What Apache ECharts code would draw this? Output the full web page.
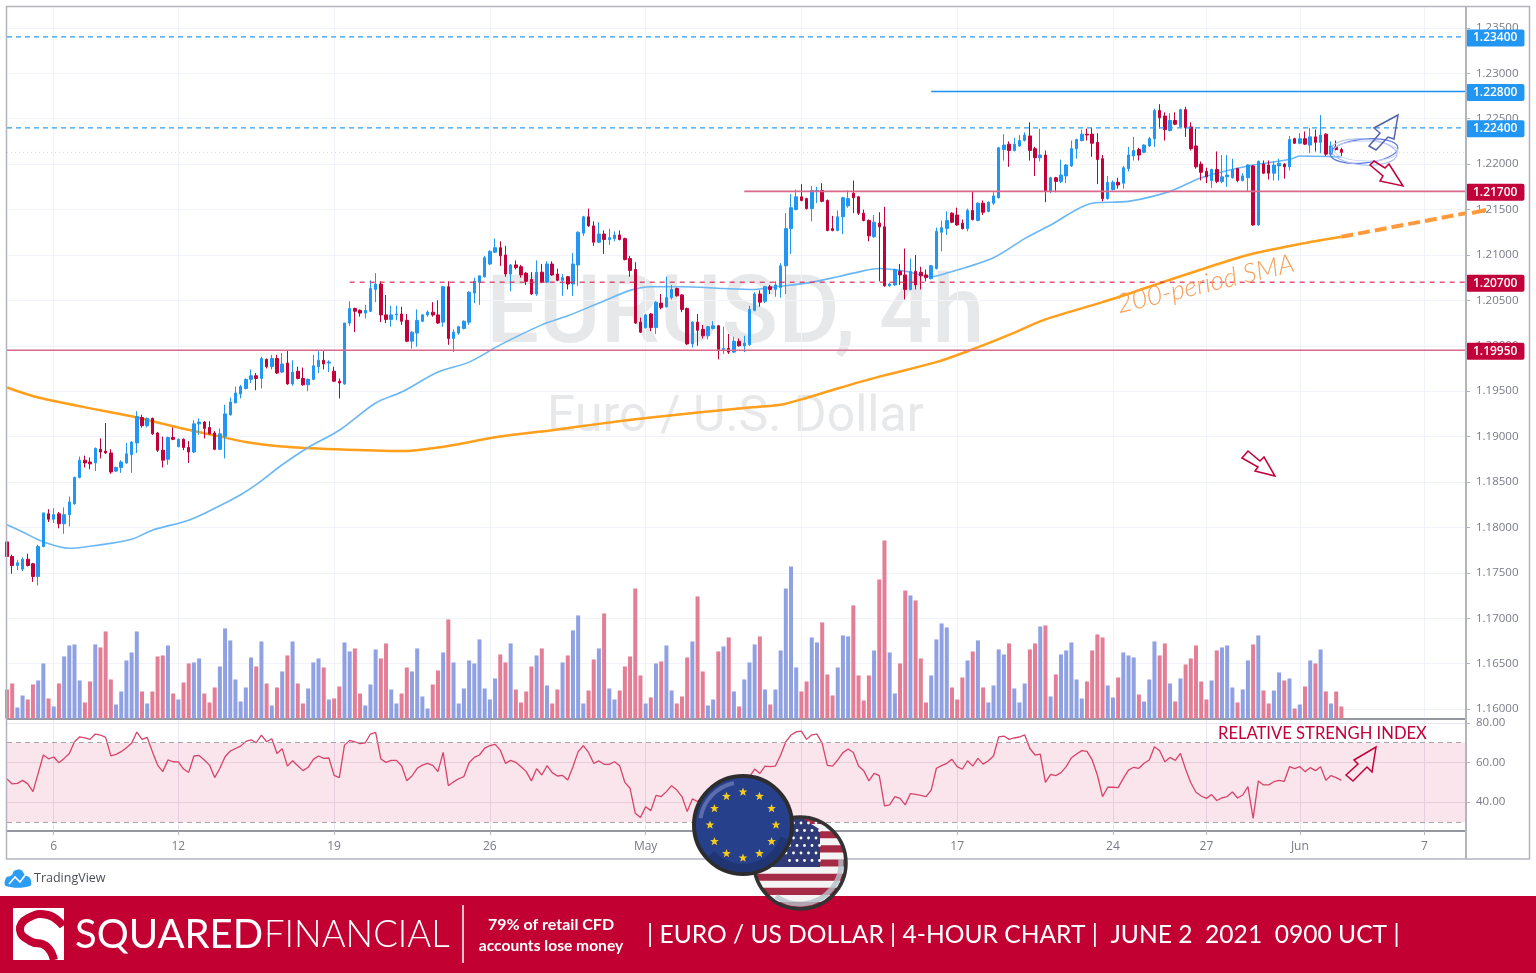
<!DOCTYPE html>
<html>
<head>
<meta charset="utf-8">
<title>EUR/USD 4h</title>
<script src="https://cdn.jsdelivr.net/npm/echarts@6/dist/echarts.min.js"></script>
<style>
html, body { margin: 0; padding: 0; background: #fff; }
#chart { width: 1536px; height: 973px; }
</style>
</head>
<body>
<div id="chart"></div>
<script>
// x axis slots: one per 4h bar, bars plus empty space up to 7 Jun
const slotCount = 282;
const xTickIndex = [9, 33, 63, 93, 123, 153, 183, 213, 231, 249, 273];
const xTickLabels = ['6', '12', '19', '26', 'May', '10', '17', '24', '27', 'Jun', '7'];
const priceTicks = [1.16, 1.165, 1.17, 1.175, 1.18, 1.185, 1.19, 1.195, 1.2, 1.205, 1.21, 1.215, 1.22, 1.225, 1.23, 1.235];
const rsiTicks = [40, 60, 80];

const opens = [
  1.1784,1.1768,1.1758,1.1754,1.1765,1.1760,1.1746,1.1779,1.1815,1.1809,
  1.1815,1.1804,1.1814,1.1826,1.1855,1.1874,1.1872,1.1871,1.1886,1.1884,
  1.1882,1.1862,1.1866,1.1871,1.1880,1.1893,1.1921,1.1912,1.1920,1.1904,
  1.1885,1.1875,1.1899,1.1889,1.1897,1.1888,1.1883,1.1914,1.1916,1.1910,
  1.1904,1.1886,1.1900,1.1924,1.1937,1.1947,1.1953,1.1963,1.1967,1.1964,
  1.1985,1.1977,1.1986,1.1971,1.1981,1.1958,1.1972,1.1964,1.1957,1.1963,
  1.1977,1.1984,1.1981,1.1972,1.1961,1.1958,1.2025,1.2041,1.2039,1.2036,
  1.2038,1.2062,1.2068,1.2034,1.2029,1.2034,1.2035,1.2028,1.2005,1.2014,
  1.2027,1.2034,1.2037,1.2034,1.2026,1.2065,1.2008,1.2014,1.2019,1.2026,
  1.2058,1.2070,1.2076,1.2090,1.2103,1.2108,1.2100,1.2079,1.2089,1.2087,
  1.2080,1.2073,1.2057,1.2081,1.2070,1.2090,1.2079,1.2072,1.2076,1.2068,
  1.2089,1.2124,1.2142,1.2132,1.2114,1.2123,1.2117,1.2118,1.2122,1.2118,
  1.2096,1.2084,1.2026,1.2020,1.2035,1.2020,1.2047,1.2043,1.2053,1.2063,
  1.2056,1.2041,1.2002,1.2026,1.2018,1.2011,1.2019,1.2022,1.1996,1.1997,
  1.1993,1.2005,1.2000,1.2001,1.2039,1.2057,1.2049,1.2065,1.2062,1.2064,
  1.2088,1.2129,1.2150,1.2164,1.2162,1.2151,1.2170,1.2171,1.2160,1.2129,
  1.2127,1.2142,1.2154,1.2168,1.2164,1.2146,1.2138,1.2120,1.2135,1.2131,
  1.2066,1.2067,1.2082,1.2078,1.2062,1.2082,1.2081,1.2078,1.2074,1.2085,
  1.2125,1.2129,1.2146,1.2144,1.2135,1.2129,1.2149,1.2138,1.2157,1.2148,
  1.2157,1.2163,1.2216,1.2222,1.2215,1.2220,1.2226,1.2231,1.2217,1.2207,
  1.2210,1.2170,1.2185,1.2181,1.2187,1.2198,1.2217,1.2226,1.2233,1.2233,
  1.2224,1.2206,1.2162,1.2172,1.2180,1.2179,1.2195,1.2209,1.2216,1.2213,
  1.2220,1.2228,1.2259,1.2253,1.2237,1.2248,1.2241,1.2260,1.2241,1.2220,
  1.2200,1.2192,1.2182,1.2194,1.2181,1.2186,1.2185,1.2195,1.2182,1.2185,
  1.2198,1.2133,1.2200,1.2199,1.2190,1.2198,1.2200,1.2197,1.2228,1.2223,
  1.2228,1.2221,1.2230,1.2224,1.2233,1.2211,1.2219,1.2216
];
const closes = [
  1.1768,1.1758,1.1761,1.1765,1.1758,1.1746,1.1779,1.1816,1.1809,1.1814,
  1.1804,1.1814,1.1828,1.1855,1.1874,1.1871,1.1870,1.1887,1.1883,1.1882,
  1.1861,1.1866,1.1872,1.1881,1.1894,1.1922,1.1912,1.1920,1.1903,1.1885,
  1.1874,1.1899,1.1897,1.1897,1.1888,1.1883,1.1914,1.1916,1.1909,1.1903,
  1.1886,1.1903,1.1925,1.1938,1.1948,1.1955,1.1963,1.1967,1.1964,1.1986,
  1.1977,1.1986,1.1970,1.1980,1.1958,1.1971,1.1964,1.1957,1.1963,1.1978,
  1.1984,1.1980,1.1982,1.1961,1.1959,1.2025,1.2041,1.2038,1.2036,1.2039,
  1.2063,1.2068,1.2034,1.2029,1.2034,1.2035,1.2027,1.2005,1.2015,1.2028,
  1.2034,1.2037,1.2034,1.2025,1.2065,1.2008,1.2015,1.2021,1.2027,1.2059,
  1.2071,1.2077,1.2097,1.2104,1.2108,1.2099,1.2079,1.2089,1.2086,1.2078,
  1.2071,1.2057,1.2081,1.2070,1.2090,1.2078,1.2072,1.2075,1.2068,1.2090,
  1.2125,1.2142,1.2132,1.2114,1.2123,1.2117,1.2119,1.2122,1.2117,1.2095,
  1.2083,1.2025,1.2015,1.2034,1.2020,1.2048,1.2042,1.2053,1.2062,1.2055,
  1.2040,1.2002,1.2026,1.2017,1.2011,1.2021,1.2022,1.1996,1.1997,1.1993,
  1.2005,1.2000,1.2003,1.2040,1.2057,1.2048,1.2065,1.2062,1.2067,1.2088,
  1.2129,1.2152,1.2164,1.2160,1.2151,1.2171,1.2171,1.2159,1.2127,1.2127,
  1.2142,1.2163,1.2162,1.2163,1.2146,1.2138,1.2121,1.2136,1.2131,1.2066,
  1.2068,1.2084,1.2078,1.2062,1.2082,1.2067,1.2077,1.2075,1.2088,1.2126,
  1.2130,1.2138,1.2136,1.2133,1.2129,1.2149,1.2139,1.2157,1.2147,1.2158,
  1.2165,1.2218,1.2221,1.2215,1.2222,1.2226,1.2232,1.2215,1.2207,1.2210,
  1.2170,1.2185,1.2181,1.2188,1.2199,1.2217,1.2227,1.2233,1.2232,1.2223,
  1.2205,1.2162,1.2180,1.2180,1.2177,1.2196,1.2210,1.2215,1.2210,1.2221,
  1.2228,1.2259,1.2251,1.2238,1.2248,1.2244,1.2260,1.2240,1.2217,1.2197,
  1.2191,1.2186,1.2194,1.2181,1.2186,1.2188,1.2194,1.2182,1.2187,1.2199,
  1.2133,1.2203,1.2190,1.2190,1.2199,1.2201,1.2197,1.2227,1.2223,1.2228,
  1.2222,1.2230,1.2224,1.2232,1.2211,1.2220,1.2216,1.2213
];
const lows = [
  1.1755,1.1749,1.1753,1.1752,1.1757,1.1740,1.1736,1.1778,1.1806,1.1805,
  1.1799,1.1793,1.1801,1.1825,1.1854,1.1866,1.1864,1.1862,1.1876,1.1881,
  1.1859,1.1861,1.1860,1.1870,1.1860,1.1882,1.1910,1.1910,1.1902,1.1883,
  1.1866,1.1869,1.1896,1.1888,1.1885,1.1871,1.1882,1.1902,1.1898,1.1902,
  1.1885,1.1885,1.1876,1.1923,1.1937,1.1942,1.1952,1.1959,1.1951,1.1953,
  1.1975,1.1974,1.1969,1.1970,1.1957,1.1956,1.1963,1.1956,1.1950,1.1962,
  1.1970,1.1974,1.1971,1.1960,1.1942,1.1957,1.2022,1.2015,1.2032,1.2030,
  1.2037,1.2048,1.2026,1.2025,1.2021,1.2028,1.2023,1.2004,1.1997,1.1999,
  1.2026,1.2032,1.2032,1.2024,1.2021,1.2001,1.1993,1.2012,1.2018,1.2023,
  1.2047,1.2045,1.2075,1.2089,1.2102,1.2088,1.2076,1.2060,1.2084,1.2075,
  1.2067,1.2056,1.2055,1.2069,1.2069,1.2077,1.2071,1.2055,1.2062,1.2055,
  1.2066,1.2121,1.2131,1.2110,1.2113,1.2101,1.2111,1.2115,1.2116,1.2094,
  1.2076,1.2024,1.2014,1.2019,1.2016,1.2013,1.2040,1.2042,1.2051,1.2054,
  1.2037,1.2001,1.1998,1.2000,1.2008,1.2007,1.2018,1.1985,1.1991,1.1991,
  1.1992,1.1999,1.1993,1.2000,1.2038,1.2043,1.2047,1.2057,1.2054,1.2053,
  1.2057,1.2101,1.2149,1.2159,1.2150,1.2137,1.2157,1.2158,1.2126,1.2126,
  1.2126,1.2123,1.2152,1.2146,1.2144,1.2137,1.2115,1.2119,1.2071,1.2065,
  1.2065,1.2066,1.2067,1.2051,1.2061,1.2062,1.2062,1.2071,1.2073,1.2084,
  1.2104,1.2122,1.2135,1.2132,1.2128,1.2126,1.2138,1.2137,1.2144,1.2147,
  1.2155,1.2162,1.2204,1.2197,1.2214,1.2219,1.2225,1.2204,1.2187,1.2203,
  1.2158,1.2168,1.2169,1.2179,1.2179,1.2197,1.2206,1.2225,1.2226,1.2208,
  1.2178,1.2159,1.2161,1.2171,1.2173,1.2173,1.2192,1.2204,1.2204,1.2212,
  1.2219,1.2219,1.2239,1.2226,1.2236,1.2243,1.2240,1.2230,1.2215,1.2195,
  1.2182,1.2179,1.2174,1.2179,1.2179,1.2175,1.2184,1.2180,1.2181,1.2170,
  1.2132,1.2132,1.2189,1.2183,1.2182,1.2182,1.2184,1.2193,1.2222,1.2222,
  1.2221,1.2212,1.2214,1.2212,1.2209,1.2210,1.2215,1.2209
];
const highs = [
  1.1786,1.1770,1.1764,1.1767,1.1771,1.1761,1.1781,1.1816,1.1820,1.1821,
  1.1817,1.1822,1.1834,1.1856,1.1878,1.1879,1.1877,1.1888,1.1898,1.1915,
  1.1886,1.1867,1.1874,1.1893,1.1895,1.1928,1.1924,1.1921,1.1921,1.1905,
  1.1900,1.1900,1.1910,1.1898,1.1898,1.1895,1.1918,1.1920,1.1917,1.1917,
  1.1906,1.1909,1.1935,1.1943,1.1955,1.1957,1.1964,1.1974,1.1970,1.1988,
  1.1986,1.1990,1.1990,1.1992,1.1995,1.1984,1.1977,1.1976,1.1964,1.1990,
  1.1994,1.1994,1.1984,1.1977,1.1964,1.2025,1.2049,1.2042,1.2040,1.2045,
  1.2072,1.2080,1.2071,1.2056,1.2044,1.2044,1.2043,1.2035,1.2016,1.2040,
  1.2035,1.2039,1.2048,1.2050,1.2066,1.2071,1.2018,1.2022,1.2028,1.2060,
  1.2075,1.2077,1.2099,1.2105,1.2118,1.2115,1.2110,1.2090,1.2094,1.2089,
  1.2081,1.2081,1.2094,1.2090,1.2093,1.2093,1.2085,1.2079,1.2077,1.2102,
  1.2126,1.2143,1.2151,1.2137,1.2136,1.2127,1.2129,1.2126,1.2127,1.2119,
  1.2099,1.2092,1.2031,1.2035,1.2036,1.2049,1.2057,1.2076,1.2067,1.2064,
  1.2057,1.2042,1.2027,1.2035,1.2023,1.2022,1.2027,1.2023,1.2021,1.2013,
  1.2010,1.2008,1.2011,1.2044,1.2059,1.2061,1.2066,1.2067,1.2071,1.2091,
  1.2146,1.2167,1.2172,1.2178,1.2163,1.2176,1.2175,1.2179,1.2161,1.2143,
  1.2149,1.2164,1.2171,1.2182,1.2165,1.2150,1.2139,1.2144,1.2147,1.2153,
  1.2069,1.2085,1.2090,1.2107,1.2096,1.2100,1.2087,1.2084,1.2089,1.2130,
  1.2138,1.2148,1.2147,1.2152,1.2139,1.2151,1.2170,1.2158,1.2160,1.2159,
  1.2169,1.2219,1.2233,1.2225,1.2229,1.2232,1.2235,1.2246,1.2219,1.2239,
  1.2215,1.2186,1.2186,1.2205,1.2200,1.2226,1.2228,1.2238,1.2239,1.2240,
  1.2234,1.2210,1.2187,1.2182,1.2185,1.2198,1.2219,1.2230,1.2218,1.2222,
  1.2230,1.2261,1.2266,1.2257,1.2256,1.2257,1.2261,1.2263,1.2246,1.2239,
  1.2203,1.2196,1.2195,1.2214,1.2210,1.2210,1.2206,1.2196,1.2190,1.2200,
  1.2199,1.2204,1.2204,1.2204,1.2203,1.2206,1.2201,1.2231,1.2229,1.2234,
  1.2236,1.2240,1.2238,1.2254,1.2234,1.2225,1.2226,1.2218
];
const volumes = [
  29,35,11,23,19,34,38,55,20,12,35,62,73,74,38,16,37,74,71,87,
  39,14,27,58,66,87,27,15,27,62,63,73,25,19,36,55,56,60,25,16,
  31,52,90,78,39,17,31,61,52,77,35,13,31,47,63,77,35,15,30,56,
  60,51,19,20,32,76,67,70,25,13,34,69,60,75,29,15,25,51,47,70,
  22,10,34,48,66,99,56,15,30,58,55,79,30,19,40,64,56,75,29,16,
  27,52,63,70,33,15,29,56,63,88,103,15,28,59,70,105,30,19,28,52,
  62,130,43,15,21,55,57,73,28,15,22,61,77,122,47,13,19,67,72,81,
  27,12,39,56,74,82,29,14,29,68,130,152,51,27,37,81,76,96,44,23,
  51,83,82,113,43,18,43,68,139,178,66,25,55,128,123,118,60,16,43,79,
  95,91,31,19,41,58,67,78,31,16,33,69,64,75,30,16,35,69,75,92,
  93,22,44,64,68,76,39,20,37,68,84,81,33,21,41,66,63,61,24,17,
  39,77,63,75,35,17,40,54,60,73,37,19,38,68,71,73,31,16,29,58,
  74,83,28,15,28,46,38,40,10,14,32,58,55,69,27,15,27,12
];
const rsiValues = [
  51.7,49.2,49.5,51.0,49.2,45.3,54.5,63.8,61.9,62.8,59.9,62.1,64.6,70.5,73.0,72.5,71.7,74.4,73.9,72.7,
  63.4,64.1,65.5,67.5,69.7,75.4,71.7,72.7,65.5,58.7,55.4,61.3,60.4,60.3,56.7,55.0,63.3,63.6,61.3,58.7,
  52.4,57.1,62.9,65.8,67.1,68.3,70.7,71.5,70.0,73.9,70.5,72.0,64.6,67.0,58.2,60.9,58.4,55.9,57.6,61.6,
  63.3,62.1,62.3,53.5,52.4,68.8,71.2,70.5,69.5,70.0,74.4,75.2,61.8,60.1,61.1,61.1,58.4,50.8,53.2,57.1,
  58.7,59.6,58.6,55.4,65.1,48.3,50.2,51.8,52.9,59.9,62.6,63.8,67.3,68.5,69.2,66.3,59.6,61.1,60.1,57.9,
  55.4,50.7,56.9,53.7,58.4,54.9,53.2,53.5,51.2,57.9,65.5,68.5,65.1,59.6,60.8,59.1,59.1,60.4,58.4,50.0,
  47.0,34.4,32.2,37.7,35.7,43.4,42.8,45.3,48.3,46.1,42.8,35.2,41.6,40.3,42.8,44.5,45.3,42.8,44.5,46.1,
  47.0,48.7,51.2,52.9,56.7,54.5,58.2,57.9,58.2,63.8,70.5,73.9,75.5,75.9,71.7,74.0,74.4,69.7,58.6,58.2,
  61.3,65.0,66.8,65.1,58.2,55.9,50.7,54.5,53.4,38.1,38.6,42.8,41.9,38.6,44.3,43.9,43.4,42.8,46.1,57.1,
  58.4,59.6,61.6,57.9,56.6,60.9,58.2,62.1,59.2,60.9,63.3,73.0,73.4,71.7,72.4,72.9,74.0,67.1,63.8,64.3,
  50.0,54.0,53.4,54.9,57.9,62.4,64.3,66.0,65.6,61.3,53.7,42.8,47.5,47.5,47.3,52.0,56.2,57.6,57.1,59.6,
  61.3,68.0,66.0,60.4,62.6,61.1,64.6,56.6,49.8,45.0,43.1,41.9,43.8,40.8,42.1,42.8,45.1,42.1,43.6,47.8,
  31.8,50.7,48.7,48.7,50.3,51.0,50.5,57.9,56.9,57.9,55.4,57.4,55.9,57.9,51.0,53.4,52.4,51.0
];
// moving averages, read at the bends: [bar index, price]
const sma50Points = [
  [0,1.1803],[3,1.1795],[7,1.1784],[12,1.1777],[17,1.1780],[24,1.1787],[28,1.1797],[35,1.1808],[40,1.1821],
  [45,1.1836],[48,1.1847],[53,1.1869],[58,1.1888],[64,1.1907],[71,1.1937],[76,1.1949],[83,1.1971],[89,1.1982],
  [95,1.2001],[103,1.2023],[108,1.2033],[114,1.2047],[120,1.2061],[124,1.2065],[130,1.2065],[138,1.2063],
  [144,1.2062],[148,1.2065],[154,1.2069],[160,1.2076],[163,1.2080],[168,1.2085],[173,1.2082],[178,1.2076],
  [181,1.2080],[190,1.2097],[196,1.2118],[201,1.2133],[209,1.2157],[216,1.2159],[224,1.2170],[230,1.2185],
  [239,1.2198],[247,1.2205],[249,1.2209],[257,1.2208]
];
const sma200Points = [
  [0,1.1954],[6,1.1943],[18,1.1929],[25,1.1921],[33,1.1910],[41,1.1900],[46,1.1894],[53,1.1889],[63,1.1886],
  [76,1.1884],[83,1.1888],[95,1.1900],[105,1.1907],[114,1.1914],[124,1.1921],[134,1.1927],[141,1.1931],
  [149,1.1935],[153,1.1941],[160,1.1953],[168,1.1966],[179,1.1982],[185,1.1994],[193,1.2012],[200,1.2029],
  [211,1.2048],[220,1.2065],[230,1.2084],[239,1.2100],[249,1.2112],[257,1.2120]
];
const smaProjection = [[257,1.2120],[281,1.2146]];

// drawn horizontal levels
const levelValues = [1.234, 1.228, 1.224, 1.217, 1.207, 1.1995];
const levelStarts = [0, 178, 0, 142, 66, 0];
const levelKinds = ['blueDash', 'blue', 'blueDash', 'red', 'redDash', 'red'];
const lastPrice = 1.2213;

const BLUE = '#2196f3';
const RED = '#c2003a';
const AXIS_TEXT = '#787b86';
const GRID_LINE = '#f0f3fa';
const FRAME = '#b2b5be';

const levelStyle = {
    blueDash: { color: '#2f9df5', width: 1.3, type: [5, 4] },
    blue: { color: '#1e90f5', width: 1.5, type: 'solid' },
    red: { color: '#d9688a', width: 1.6, type: 'solid' },
    redDash: { color: '#dc2a58', width: 1.2, type: [5, 5] }
};

const categories = [];
for (let i = 0; i < slotCount; i++) categories.push(String(i));

function isTick(index) {
    return xTickIndex.indexOf(index) >= 0;
}

const candles = opens.map((o, i) => [o, closes[i], lows[i], highs[i]]);

// one thin series per drawn level, price tag as its end label
const levelSeries = levelValues.map((v, i) => ({
    name: 'Level ' + v.toFixed(5), type: 'line', xAxisIndex: 0, yAxisIndex: 0, z: 5,
    data: [[levelStarts[i], v], [slotCount - 1, v]],
    showSymbol: false,
    lineStyle: levelStyle[levelKinds[i]],
    endLabel: {
        show: true, distance: 0, offset: [0, 1], formatter: v.toFixed(5),
        backgroundColor: levelKinds[i].indexOf('blue') === 0 ? BLUE : RED,
        color: '#fff', borderRadius: 2, padding: [3, 7, 2, 7],
        fontSize: 12, fontWeight: 600, fontFamily: 'Open Sans'
    }
}));

// decoration: stars, coins, logo
function starPoints(cx, cy, r) {
    const pts = [];
    for (let k = 0; k < 10; k++) {
        const a = -Math.PI / 2 + k * Math.PI / 5;
        const d = k % 2 ? r * 0.42 : r;
        pts.push([cx + d * Math.cos(a), cy + d * Math.sin(a)]);
    }
    return pts;
}

function buildUsCoin() {
    const cx = 800, cy = 863, r = 46, out = [];
    const chord = (y) => Math.sqrt(Math.max(0, r * r - (y - cy) * (y - cy)));
    const rowShape = (y0, y1, xRight) => {
        const pts = [], left = [];
        for (let y = y0; y <= y1 + 0.01; y += (y1 - y0) / 4) {
            const c = chord(y);
            pts.push([Math.min(cx + c, xRight), y]);
            left.unshift([cx - c, y]);
        }
        return pts.concat(left);
    };
    out.push({ type: 'circle', z: 50, shape: { cx, cy, r }, style: { fill: '#f4f4f4' } });
    const stripe = 7.08;
    for (let s = 0; s < 13; s += 2) {
        const y0 = cy - r + s * stripe;
        out.push({ type: 'polygon', z: 51, shape: { points: rowShape(y0, y0 + stripe, 900) }, style: { fill: '#a52a45' } });
    }
    out.push({ type: 'polygon', z: 52, shape: { points: rowShape(cy - r, cy + 4, 820) }, style: { fill: '#2f3b78' } });
    for (let row = 0; row < 6; row++) {
        for (let col = 0; col < 5; col++) {
            const px = 786 + col * 7.5 + (row % 2 ? 3.5 : 0), py = 823 + row * 7.5;
            out.push({ type: 'circle', z: 53, shape: { cx: px, cy: py, r: 1.4 }, style: { fill: '#fff' } });
        }
    }
    out.push({ type: 'arc', z: 54, shape: { cx, cy, r: r - 5, startAngle: -0.1, endAngle: 2.2 }, style: { stroke: '#b4c1c9', lineWidth: 5, fill: 'none', opacity: 0.8 } });
    out.push({ type: 'circle', z: 55, shape: { cx, cy, r }, style: { fill: 'none', stroke: '#333', lineWidth: 3.5 } });
    return out;
}

function buildEuCoin() {
    const cx = 743, cy = 825, r = 49, out = [];
    out.push({ type: 'circle', z: 60, shape: { cx, cy, r }, style: { fill: '#26408b', stroke: '#2d2d30', lineWidth: 4 } });
    out.push({ type: 'arc', z: 61, shape: { cx, cy, r: r - 6, startAngle: 0.3, endAngle: 2.4 }, style: { stroke: '#1f3574', lineWidth: 8, fill: 'none' } });
    out.push({ type: 'arc', z: 61, shape: { cx, cy, r: r - 6, startAngle: 3.3, endAngle: 4.5 }, style: { stroke: '#6a78b5', lineWidth: 4, fill: 'none', opacity: 0.8 } });
    for (let k = 0; k < 12; k++) {
        const a = k * Math.PI / 6;
        out.push({
            type: 'polygon', z: 62,
            shape: { points: starPoints(cx + 33 * Math.cos(a), cy + 33 * Math.sin(a), 4.6) },
            style: { fill: '#f6cb1c' }
        });
    }
    return out;
}

function outlineArrow(points, stroke) {
    return { type: 'polygon', z: 40, shape: { points }, style: { fill: 'rgba(255,255,255,0)', stroke, lineWidth: 1.5 } };
}

function plainText(x, y, text, font, fill, align) {
    return {
        type: 'text', z: 70, x, y,
        style: { text, font, fill, textAlign: align || 'left', textVerticalAlign: 'middle' }
    };
}

const decorations = [
    // watermark
    { type: 'text', z: -1, x: 486, y: 318, style: { text: 'EURUSD, 4h', font: '500 94px Roboto', fill: '#e7e8ea', textVerticalAlign: 'middle' } },
    { type: 'text', z: -1, x: 547, y: 418, style: { text: 'Euro / U.S. Dollar', font: '400 50px Roboto', fill: '#e7e8ea', textVerticalAlign: 'middle' } },
    // frame and pane borders
    { type: 'rect', z: 30, shape: { x: 6.5, y: 6.5, width: 1523, height: 852.5 }, style: { fill: 'none', stroke: FRAME, lineWidth: 1.5 } },
    { type: 'line', z: 30, shape: { x1: 1466, y1: 6, x2: 1466, y2: 859 }, style: { stroke: FRAME, lineWidth: 2 } },
    // tail of the SMA projection past the axis
    { type: 'line', z: 40, shape: { x1: 1472, y1: 213, x2: 1486, y2: 210 }, style: { stroke: '#ff9a3c', lineWidth: 4 } },
    // hand drawn notes
    { type: 'text', z: 40, x: 1117, y: 305, rotation: 13.4 * Math.PI / 180, style: { text: '200-period SMA', font: 'italic 300 26.5px Lato', fill: '#f7a05a', textVerticalAlign: 'middle' } },
    plainText(1218, 734, 'RELATIVE STRENGH INDEX', '16.6px Lato', RED),
    outlineArrow([[1398, 115], [1374, 128], [1380, 133], [1369, 146], [1376, 150], [1388, 137], [1394, 139]], '#5563a8'),
    outlineArrow([[1370, 165], [1374, 161], [1385, 168], [1389, 164], [1403, 186], [1380, 181], [1383, 176]], RED),
    outlineArrow([[1242, 458], [1248, 451], [1260, 461], [1264, 457], [1275, 476], [1255, 471], [1258, 467]], RED),
    outlineArrow([[1346, 775], [1358, 764], [1354, 760], [1376, 747], [1372, 772], [1367, 767], [1353, 781]], RED),
    { type: 'ellipse', z: 39, x: 1364, y: 151, rotation: 0.1, shape: { cx: 0, cy: 0, rx: 34, ry: 12 }, style: { fill: 'none', stroke: '#5a78e0', lineWidth: 1.2 } },
    { type: 'ellipse', z: 39, x: 1364, y: 152, rotation: -0.08, shape: { cx: 0, cy: 0, rx: 33, ry: 13 }, style: { fill: 'none', stroke: '#a9b9ee', lineWidth: 1 } },
    { type: 'ellipse', z: 39, x: 1366, y: 151, rotation: -0.02, shape: { cx: 0, cy: 0, rx: 32, ry: 10 }, style: { fill: 'none', stroke: '#c6d2f4', lineWidth: 1 } },
    // TradingView mark
    { type: 'polygon', z: 40, shape: { points: [[6, 886], [6, 878], [12, 875], [14, 871], [21, 870], [25, 875], [30, 878], [30, 886]], smooth: 0.4 }, style: { fill: '#2a9df4' } },
    { type: 'polyline', z: 41, shape: { points: [[9, 884], [15, 877], [20, 882], [26, 874]] }, style: { stroke: '#fff', lineWidth: 1.6, fill: 'none' } },
    plainText(34, 878, 'TradingView', '12.5px "Open Sans"', '#4a4e5a'),
    // banner
    { type: 'rect', z: 45, shape: { x: 0, y: 896, width: 1536, height: 77 }, style: { fill: '#c20032' } },
    { type: 'rect', z: 46, shape: { x: 13, y: 908, width: 51, height: 52 }, style: { fill: '#fff' } },
    { type: 'polyline', z: 47, shape: { points: [[63, 926], [48, 915], [28, 918], [20, 930], [30, 941], [46, 946], [54, 960]], smooth: 0.5 }, style: { stroke: '#c20032', lineWidth: 8, fill: 'none' } },
    plainText(75, 935, 'SQUARED', '40px Lato', '#fff'),
    plainText(264, 935, 'FINANCIAL', '300 36.5px Lato', '#fff'),
    { type: 'line', z: 46, shape: { x1: 463, y1: 905, x2: 463, y2: 963 }, style: { stroke: '#fff', lineWidth: 1.5 } },
    plainText(551, 925, '79% of retail CFD', '700 16px Lato', '#fff', 'center'),
    plainText(551, 946, 'accounts lose money', '700 15.6px Lato', '#fff', 'center'),
    plainText(647, 935, '| EURO / US DOLLAR | 4-HOUR CHART |  JUNE 2  2021  0900 UCT |', '24.6px Lato', '#fff')
];

const chart = echarts.init(document.getElementById('chart'), null, { renderer: 'canvas' });
chart.setOption({
    animation: false,
    backgroundColor: '#fff',
    grid: [
        { left: 7, right: 70, top: 6, height: 712.5 },
        { left: 7, right: 70, top: 719, height: 112 }
    ],
    xAxis: [
        {
            type: 'category', gridIndex: 0, data: categories, boundaryGap: false,
            axisLine: { show: true, lineStyle: { color: '#9598a1', width: 2 } },
            axisTick: { show: false },
            axisLabel: { show: false },
            splitLine: { show: true, interval: isTick, lineStyle: { color: GRID_LINE } }
        },
        {
            type: 'category', gridIndex: 1, data: categories, boundaryGap: false,
            axisLine: { show: true, lineStyle: { color: '#9598a1', width: 2 } },
            axisTick: { show: true, interval: isTick, length: 4, lineStyle: { color: FRAME } },
            axisLabel: {
                show: true, interval: isTick, margin: 10, color: AXIS_TEXT, fontSize: 12, fontFamily: 'Open Sans',
                formatter: (value, index) => xTickLabels[xTickIndex.indexOf(index)] || ''
            },
            splitLine: { show: true, interval: isTick, lineStyle: { color: '#ece6f0' } }
        }
    ],
    yAxis: [
        {
            type: 'value', gridIndex: 0, position: 'right', min: 1.15896, max: 1.23741,
            axisLine: { show: false },
            axisTick: { show: true, length: 4, customValues: priceTicks, lineStyle: { color: FRAME } },
            axisLabel: {
                show: true, margin: 10, color: AXIS_TEXT, fontSize: 11.5, fontFamily: 'Open Sans',
                customValues: priceTicks, formatter: (v) => v.toFixed(5)
            },
            splitLine: { show: true, lineStyle: { color: GRID_LINE } }
        },
        { type: 'value', gridIndex: 0, min: 0, max: 712, show: false, splitLine: { show: false } },
        {
            type: 'value', gridIndex: 1, position: 'right', min: 25.4, max: 82,
            axisLine: { show: false },
            axisTick: { show: true, length: 4, customValues: rsiTicks, lineStyle: { color: FRAME } },
            axisLabel: {
                show: true, margin: 10, color: AXIS_TEXT, fontSize: 11.5, fontFamily: 'Open Sans',
                customValues: rsiTicks, formatter: (v) => v.toFixed(2)
            },
            splitLine: { show: true, lineStyle: { color: '#ece6f0' } }
        }
    ],
    series: [
        {
            name: 'Volume', type: 'bar', xAxisIndex: 0, yAxisIndex: 1, barWidth: 4, z: 1,
            data: volumes,
            itemStyle: {
                color: (p) => closes[p.dataIndex] >= opens[p.dataIndex] ? '#8fa1e3' : '#e37e96'
            }
        },
        {
            name: 'SMA 200', type: 'line', xAxisIndex: 0, yAxisIndex: 0, data: sma200Points, showSymbol: false, smooth: 0.3, z: 3,
            lineStyle: { color: '#ff9f1c', width: 2.5 }
        },
        {
            name: 'SMA 200 projection', type: 'line', xAxisIndex: 0, yAxisIndex: 0, data: smaProjection, showSymbol: false, z: 3,
            lineStyle: { color: '#ff9a3c', width: 4, type: [12, 5] }
        },
        {
            name: 'SMA 50', type: 'line', xAxisIndex: 0, yAxisIndex: 0, data: sma50Points, showSymbol: false, smooth: 0.3, z: 3,
            lineStyle: { color: '#6ab7f5', width: 1.6 }
        },
        {
            name: 'EURUSD', type: 'candlestick', xAxisIndex: 0, yAxisIndex: 0, barWidth: 3, z: 4,
            data: candles,
            itemStyle: { color: BLUE, color0: RED, borderColor: BLUE, borderColor0: RED, borderWidth: 1 }
        },
        {
            name: 'Last price', type: 'line', xAxisIndex: 0, yAxisIndex: 0, z: 2,
            data: [[0, lastPrice], [slotCount - 1, lastPrice]],
            showSymbol: false,
            lineStyle: { color: '#d4d6db', width: 1, type: [1, 3] }
        },
        {
            name: 'RSI', type: 'line', xAxisIndex: 1, yAxisIndex: 2, data: rsiValues, showSymbol: false, z: 3,
            lineStyle: { color: '#d8436b', width: 1.3 },
            markArea: {
                silent: true, animation: false, itemStyle: { color: 'rgba(194,0,58,0.1)' },
                data: [[{ yAxis: 70 }, { yAxis: 30 }]]
            },
            markLine: {
                symbol: 'none', silent: true, animation: false, label: { show: false },
                lineStyle: { color: '#a8a4a8', type: [5, 4], width: 1 },
                data: [{ yAxis: 70 }, { yAxis: 30 }]
            }
        }
    ].concat(levelSeries),
    graphic: { elements: decorations.concat(buildUsCoin(), buildEuCoin()) }
});
</script>
</body>
</html>
